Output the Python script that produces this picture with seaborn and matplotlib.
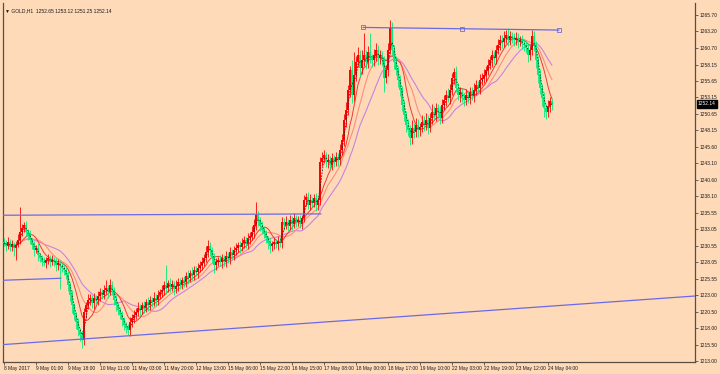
import numpy as np
import pandas as pd
import matplotlib.pyplot as plt
import seaborn as sns

# GOLD H1 closes, 8 May 2017 - 24 May 2017
closes = [
    1231.0, 1230.5, 1231.1, 1230.4, 1230.8, 1230.2, 1230.7, 1231.4, 1232.6, 1233.3,
    1233.7, 1232.6, 1232.2, 1231.4, 1230.7, 1229.9, 1230.2, 1229.1, 1228.7, 1228.1,
    1227.9, 1228.4, 1228.7, 1228.1, 1228.4, 1228.1, 1227.6, 1227.9, 1227.5, 1227.2,
    1226.9, 1226.1, 1224.6, 1223.1, 1221.5, 1220.0, 1218.9, 1217.7, 1217.0, 1216.2,
    1220.5, 1221.5, 1222.3, 1222.6, 1221.8, 1222.6, 1222.3, 1222.9, 1223.5, 1223.1,
    1223.8, 1224.1, 1223.5, 1224.6, 1223.8, 1222.3, 1221.5, 1220.8, 1220.0, 1219.2,
    1218.5, 1218.0, 1217.7, 1218.9, 1219.6, 1220.0, 1220.5, 1221.1, 1220.8, 1221.5,
    1221.1, 1222.0, 1221.5, 1222.3, 1222.0, 1222.6, 1222.3, 1223.1, 1223.5, 1223.8,
    1224.6, 1224.1, 1224.9, 1224.3, 1224.7, 1224.0, 1224.4, 1225.0, 1224.6, 1225.3,
    1225.0, 1226.0, 1225.7, 1226.4, 1226.1, 1226.9, 1226.6, 1227.2, 1227.6, 1228.1,
    1228.7, 1229.6, 1230.5, 1229.9, 1228.7, 1227.6, 1228.1, 1228.4, 1228.1, 1228.7,
    1228.1, 1229.0, 1228.7, 1229.6, 1229.1, 1229.9, 1230.2, 1230.7, 1230.4, 1231.0,
    1231.4, 1230.8, 1231.7, 1232.0, 1232.6, 1233.7, 1235.2, 1234.5, 1233.6, 1233.0,
    1232.4, 1231.7, 1231.0, 1230.5, 1230.8, 1231.1, 1230.8, 1231.3, 1231.0, 1234.2,
    1233.7, 1234.2, 1233.6, 1234.5, 1233.9, 1234.8, 1234.2, 1234.5, 1233.9, 1234.8,
    1237.5, 1238.0, 1236.8, 1237.5, 1237.1, 1237.8, 1236.8, 1237.5, 1243.3, 1243.9,
    1244.4, 1243.3, 1243.6, 1242.9, 1243.9, 1243.3, 1244.1, 1243.6, 1245.1, 1246.7,
    1249.7, 1251.2, 1254.3, 1257.3, 1253.5, 1256.6, 1258.5, 1259.6, 1257.6, 1258.8,
    1259.6, 1258.5, 1260.1, 1259.1, 1258.8, 1259.6, 1260.4, 1259.1, 1259.6, 1258.8,
    1256.1, 1257.3, 1260.4, 1263.7, 1260.4, 1258.5, 1257.3, 1255.8, 1254.3, 1252.0,
    1250.5, 1249.0, 1248.2, 1247.0, 1248.5, 1247.9, 1249.0, 1248.2, 1248.6, 1249.4,
    1249.0, 1249.7, 1248.5, 1250.0, 1250.9, 1250.5, 1251.5, 1250.9, 1250.0, 1252.0,
    1252.7, 1253.5, 1253.1, 1254.3, 1256.1, 1257.0, 1254.6, 1253.5, 1254.0, 1253.1,
    1252.7, 1253.5, 1253.1, 1254.0, 1253.4, 1254.3, 1255.0, 1254.6, 1255.8, 1256.1,
    1256.6, 1257.3, 1258.1, 1258.8, 1259.6, 1259.1, 1260.4, 1261.1, 1261.9, 1261.6,
    1262.2, 1262.6, 1261.9, 1262.5, 1262.2, 1261.9, 1262.2, 1261.6, 1261.9, 1261.3,
    1261.1, 1260.7, 1259.6, 1260.4, 1262.5, 1261.1, 1258.8, 1256.6, 1254.6, 1253.1,
    1251.5, 1250.9, 1251.8, 1252.65, 1252.14,
]
first_open = 1231.2

wick_up = [
    0.6, 0.4, 0.8, 0.5, 0.7, 0.4, 0.6, 0.9, 3.9, 0.5,
    0.4, 0.6, 0.5, 0.7, 0.4, 0.6, 0.5, 0.8, 0.4, 0.5,
    0.7, 0.5, 0.6, 0.4, 0.8, 0.5, 0.6, 0.7, 0.5, 0.4,
    0.5, 0.4, 0.6, 0.5, 0.7, 0.4, 0.5, 0.6, 0.4, 0.5,
    0.6, 0.5, 0.9, 0.6, 0.5, 0.8, 0.5, 0.7, 0.6, 0.5,
    0.8, 1.2, 0.5, 0.9, 0.6, 0.5, 0.7, 0.4, 0.5, 0.6,
    0.5, 0.4, 0.6, 0.8, 0.5, 0.7, 0.5, 0.9, 0.6, 0.5,
    0.7, 0.5, 0.8, 0.6, 0.5, 0.9, 0.6, 0.7, 0.5, 0.8,
    0.6, 3.0, 0.5, 0.8, 0.6, 0.5, 0.9, 0.7, 0.6, 0.5,
    0.7, 0.6, 0.8, 0.5, 0.9, 0.6, 0.5, 0.7, 0.6, 0.8,
    0.6, 0.9, 0.9, 0.6, 0.5, 0.7, 0.6, 0.5, 0.8, 0.6,
    0.5, 0.7, 0.6, 0.8, 0.5, 0.6, 0.7, 0.5, 0.6, 0.8,
    0.6, 0.5, 0.8, 0.7, 0.9, 1.0, 2.0, 0.6, 0.5, 0.7,
    0.5, 0.6, 0.4, 0.7, 0.5, 0.6, 0.5, 0.7, 0.6, 0.8,
    0.6, 0.9, 0.5, 0.8, 0.6, 0.7, 0.5, 0.6, 0.8, 0.5,
    0.8, 0.6, 0.7, 0.9, 0.5, 0.6, 0.8, 0.5, 0.7, 0.9,
    0.7, 0.5, 0.9, 0.6, 0.8, 0.5, 0.7, 0.6, 0.9, 0.8,
    0.9, 1.2, 0.8, 0.7, 1.5, 3.5, 1.0, 1.2, 0.8, 1.6,
    3.4, 0.8, 0.9, 2.9, 0.7, 0.9, 1.0, 0.8, 0.7, 0.6,
    0.6, 0.8, 1.0, 1.2, 1.0, 0.8, 0.9, 0.7, 0.8, 0.6,
    0.8, 0.6, 0.9, 0.7, 1.2, 0.8, 1.0, 0.9, 0.7, 1.1,
    0.9, 1.0, 0.7, 0.8, 1.3, 0.9, 0.8, 0.6, 1.0, 0.9,
    0.8, 0.7, 1.0, 0.9, 0.8, 0.6, 0.9, 0.7, 0.8, 0.6,
    0.7, 0.9, 0.6, 0.8, 0.7, 1.0, 0.8, 0.6, 0.9, 0.7,
    0.8, 0.6, 0.9, 0.7, 0.8, 0.6, 0.7, 0.9, 0.8, 0.7,
    1.0, 0.8, 1.1, 0.7, 0.6, 0.8, 0.9, 0.7, 0.6, 0.8,
    0.7, 0.6, 0.8, 0.7, 0.9, 0.8, 0.6, 0.7, 0.8, 0.6,
    0.8, 0.7, 0.9, 0.6, 0.47,
]

wick_dn = [
    0.5, 0.8, 0.4, 0.7, 0.6, 1.2, 1.8, 0.4, 0.6, 0.5,
    0.6, 0.5, 0.8, 0.6, 0.7, 0.9, 0.5, 0.8, 0.6, 0.7,
    0.5, 0.7, 0.6, 0.8, 0.5, 0.6, 0.9, 0.7, 3.6, 0.6,
    0.8, 0.6, 1.0, 0.9, 1.2, 0.8, 1.1, 0.9, 1.0, 1.2,
    0.8, 0.9, 0.6, 0.8, 0.7, 0.9, 0.6, 0.8, 0.7, 0.6,
    0.7, 0.6, 0.9, 0.5, 0.8, 0.7, 0.9, 0.8, 0.6, 0.9,
    0.8, 0.7, 0.7, 0.9, 0.7, 0.8, 0.6, 0.7, 0.9, 0.6,
    0.8, 0.6, 0.9, 0.7, 0.8, 0.6, 0.9, 0.7, 0.6, 0.8,
    0.7, 0.9, 0.6, 0.8, 0.7, 0.9, 0.6, 0.8, 0.7, 0.6,
    0.8, 0.7, 0.9, 0.6, 0.8, 0.7, 0.6, 0.9, 0.7, 0.8,
    0.7, 0.6, 0.8, 0.9, 0.7, 1.2, 0.8, 0.6, 0.7, 0.9,
    0.6, 0.8, 0.7, 0.9, 0.6, 0.7, 0.8, 0.6, 0.9, 0.7,
    0.8, 0.6, 0.7, 0.9, 0.6, 0.8, 0.7, 0.9, 0.8, 0.7,
    0.6, 0.8, 0.9, 1.1, 0.7, 0.8, 0.6, 0.9, 0.7, 0.8,
    0.7, 0.6, 0.8, 0.7, 0.9, 0.6, 0.8, 0.7, 0.6, 0.8,
    0.7, 0.9, 0.6, 0.8, 0.7, 0.6, 0.9, 0.8, 0.7, 0.6,
    0.8, 0.7, 0.9, 0.6, 0.8, 0.7, 0.6, 0.9, 0.7, 0.8,
    0.9, 1.0, 0.8, 1.1, 1.2, 0.9, 1.0, 0.8, 1.3, 0.9,
    0.8, 1.0, 0.9, 0.7, 1.1, 0.8, 0.9, 1.0, 0.8, 0.9,
    2.1, 0.8, 0.9, 0.7, 0.9, 1.0, 0.8, 1.1, 0.9, 1.0,
    1.0, 1.2, 1.0, 1.1, 0.9, 1.0, 0.8, 1.1, 0.9, 0.8,
    0.9, 0.8, 1.0, 0.7, 0.9, 0.8, 1.0, 0.7, 0.9, 0.8,
    0.8, 0.9, 0.7, 1.0, 0.8, 0.9, 0.7, 0.8, 1.0, 0.7,
    0.9, 0.7, 0.8, 1.0, 0.7, 0.9, 0.8, 0.7, 0.9, 0.8,
    0.7, 0.9, 0.8, 0.7, 1.0, 0.8, 0.9, 0.7, 0.8, 0.9,
    0.8, 0.7, 0.9, 0.8, 0.7, 1.0, 0.8, 0.9, 0.7, 0.8,
    0.9, 0.8, 1.0, 0.7, 0.8, 0.9, 1.2, 1.3, 1.0, 1.2,
    1.3, 1.0, 0.8, 0.9, 0.89,
]

x_labels = ["8 May 2017", "9 May 01:00", "9 May 18:00", "10 May 11:00", "11 May 03:00",
            "11 May 20:00", "12 May 13:00", "15 May 06:00", "15 May 22:00", "16 May 15:00",
            "17 May 08:00", "18 May 00:00", "18 May 17:00", "19 May 10:00", "22 May 03:00",
            "22 May 19:00", "23 May 12:00", "24 May 04:00"]
y_ticks = [1265.70, 1263.20, 1260.70, 1258.15, 1255.65, 1253.15, 1250.65, 1248.15,
           1245.60, 1243.10, 1240.60, 1238.10, 1235.55, 1233.05, 1230.55, 1228.05,
           1225.55, 1223.00, 1220.50, 1218.00, 1215.50, 1213.00]

# trend lines drawn by hand on the chart: (bar index, price)
top_line_x = [179.5, 228.8, 277.5]
top_line_y = [1263.8, 1263.6, 1263.4]
resist_x = [-0.5, 158.5]
resist_y = [1235.2, 1235.4]
support_x = [-0.5, 28.5]
support_y = [1225.3, 1225.6]
trend_x = [-0.5, 345.5]
trend_y = [1215.5, 1222.9]

bg = '#FFDAB9'
up_col = '#FF0000'
dn_col = '#00EE7A'
line_col = '#6A6AE6'

sns.set_style('ticks', {'axes.facecolor': bg, 'figure.facecolor': bg})
plt.rcParams['font.family'] = ['Liberation Sans', 'DejaVu Sans']

df = pd.DataFrame({'close': closes})
df['bar'] = np.arange(len(df))
df['open'] = df['close'].shift(1).fillna(first_open)
df['high'] = df[['open', 'close']].max(axis=1) + np.array(wick_up)
df['low'] = df[['open', 'close']].min(axis=1) - np.array(wick_dn)
df['ma3'] = df['close'].rolling(3, min_periods=1).mean()
df['ma8'] = df['close'].rolling(8, min_periods=1).mean()
df['ma13'] = df['close'].rolling(13, min_periods=1).mean()
df['ma21'] = df['close'].rolling(21, min_periods=1).mean()

fig = plt.figure(figsize=(7.2, 3.74), dpi=100)
ax = fig.add_axes([3 / 720, 12 / 374, 692 / 720, 359 / 374])

# moving averages
sns.lineplot(data=df, x='bar', y='ma21', ax=ax, color='#C684DE', lw=0.8)
sns.lineplot(data=df, x='bar', y='ma13', ax=ax, color='#FF8C7A', lw=0.8)
sns.lineplot(data=df, x='bar', y='ma8', ax=ax, color='#F03A2E', lw=0.7)

# candles
cols = np.where(df['close'] >= df['open'], up_col, dn_col)
ax.vlines(df['bar'], df['low'], df['high'], colors=cols, lw=0.6, zorder=3)
body = (df['close'] - df['open']).abs().clip(lower=0.08)
ax.bar(df['bar'], body, bottom=df[['open', 'close']].min(axis=1), width=0.8,
       color=cols, linewidth=0, zorder=4)

sns.lineplot(data=df, x='bar', y='ma3', ax=ax, color='#2b2b2b', lw=0.6,
             dashes=False, zorder=5).lines[-1].set_dashes([2, 1.5])

# trend lines
ax.plot(resist_x, resist_y, color=line_col, lw=0.9, zorder=6)
ax.plot(support_x, support_y, color=line_col, lw=0.9, zorder=6)
ax.plot(trend_x, trend_y, color=line_col, lw=0.9, zorder=6)
ax.plot(top_line_x, top_line_y, color=line_col, lw=0.9, zorder=6,
        marker='s', ms=2.2, mfc='none', mec=line_col, mew=0.6)

ax.set_xlim(-0.5, 345.5)
ax.set_ylim(1212.85, 1267.52)
ax.set_xlabel('')
ax.set_ylabel('')

ax.set_xticks(np.arange(len(x_labels)) * 16)
ax.set_xticklabels(x_labels, fontsize=3.5, color='#1a1a1a')
for t in ax.get_xticklabels():
    t.set_horizontalalignment('left')
ax.tick_params(axis='x', length=2, width=0.5, pad=0.8, color='#333333')

ax.yaxis.tick_right()
ax.set_yticks(y_ticks)
ax.set_yticklabels([f'{v:.2f}' for v in y_ticks], fontsize=3.5, color='#1a1a1a')
ax.tick_params(axis='y', length=2, width=0.5, pad=1, color='#333333')

for s in ['left', 'right', 'bottom']:
    ax.spines[s].set_color('#5a4d42')
    ax.spines[s].set_linewidth(0.9)
ax.spines['top'].set_visible(False)

# current price tag on the price scale
last = closes[-1]
ax.text(1.004, last, f'{last:.2f}', transform=ax.get_yaxis_transform(),
        fontsize=3.5, color='white', va='center', ha='left',
        bbox=dict(boxstyle='square,pad=0.25', fc='black', ec='black'))

ax.text(0.003, 0.985, '\u25bc GOLD,H1  1252.65 1253.12 1251.25 1252.14',
        transform=ax.transAxes, fontsize=3.6, color='#1a1a1a', va='top', ha='left')

fig.savefig('out.png', dpi=100, facecolor=bg)
